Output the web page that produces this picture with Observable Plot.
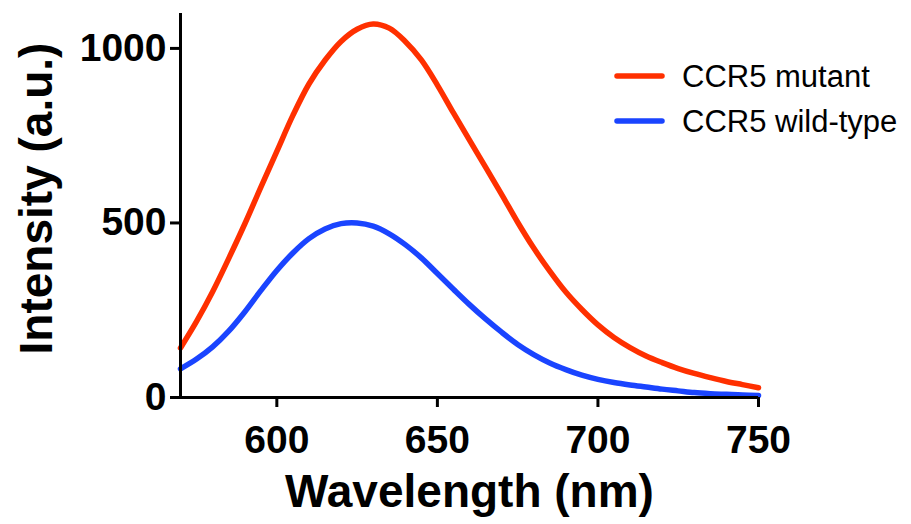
<!DOCTYPE html>
<html>
<head>
<meta charset="utf-8">
<script src="https://cdn.jsdelivr.net/npm/d3@7"></script>
<script src="https://cdn.jsdelivr.net/npm/@observablehq/plot@0.6"></script>
<style>
  html, body { margin: 0; padding: 0; background: #fff; }
  #wrap { position: relative; width: 911px; height: 524px; font-family: "Liberation Sans", Arial, sans-serif; }
  #legend { position: absolute; left: 0; top: 0; pointer-events: none; }
</style>
</head>
<body>
<div id="wrap"></div>
<script>
// ---- data ----
const wavelengths = [570,575,580,585,590,595,600,605,610,615,620,625,630,635,640,645,650,655,660,665,670,675,680,685,690,695,700,705,710,715,720,725,730,735,740,745,750];
const mutant =      [142,218,303,398,497,602,705,808,898,966,1020,1055,1070,1058,1020,967,895,815,737,660,582,502,428,362,302,252,208,172,143,119,100,83,69,57,46,37,28];
const wildtype =    [82,110,145,190,245,306,364,414,455,483,498,500,491,469,438,400,355,310,266,225,187,152,123,99,80,64,52,43,36,30,24,19,14,11,9,7,6];
const seriesNames = ["CCR5 mutant", "CCR5 wild-type"];
const seriesColors = ["#ff3000", "#1a44ff"];
const xTicks = [600, 650, 700, 750];
const yTicks = [0, 500, 1000];
const xTitle = "Wavelength (nm)";
const yTitle = "Intensity (a.u.)";

const rows = [];
wavelengths.forEach((w, i) => {
  rows.push({w, v: mutant[i], s: seriesNames[0]});
  rows.push({w, v: wildtype[i], s: seriesNames[1]});
});

const font = "'Liberation Sans', Arial, sans-serif";

const chart = Plot.plot({
  width: 911,
  height: 524,
  marginLeft: 180,
  marginRight: 153,
  marginTop: 13,
  marginBottom: 127,
  style: { fontFamily: font, background: "#fff", color: "#000" },
  x: { domain: [570, 750] },
  y: { domain: [0, 1100] },
  color: { domain: seriesNames, range: seriesColors },
  marks: [
    Plot.line(rows, { x: "w", y: "v", stroke: "s", z: "s", strokeWidth: 5.5, curve: "catmull-rom" }),
    Plot.ruleX([570], { stroke: "#000", strokeWidth: 3 }),
    Plot.ruleY([0], { stroke: "#000", strokeWidth: 3 }),
    Plot.axisX({ ticks: xTicks, tickSize: 10, tickPadding: 18, strokeWidth: 3, fontSize: 39, fontWeight: "bold", label: null, tickFormat: d => String(d) }),
    Plot.axisY({ ticks: yTicks, tickSize: 10, tickPadding: 4, strokeWidth: 3, fontSize: 39, fontWeight: "bold", label: null, tickFormat: d => String(d) }),
    Plot.text([xTitle], { frameAnchor: "bottom", dy: 95, fontSize: 46, fontWeight: "bold", lineAnchor: "middle", textAnchor: "middle", fill: "#000" }),
    Plot.text([yTitle], { frameAnchor: "left", rotate: -90, dx: -143, dy: -7, fontSize: 46, fontWeight: "bold", lineAnchor: "middle", textAnchor: "middle", fill: "#000" })
  ]
});

const wrap = document.getElementById("wrap");
wrap.appendChild(chart);

// legend overlay
const ns = "http://www.w3.org/2000/svg";
const leg = document.createElementNS(ns, "svg");
leg.setAttribute("id", "legend");
leg.setAttribute("width", 911);
leg.setAttribute("height", 524);
const legendX = 617, legendY = 76, legendGap = 45;
seriesNames.forEach((name, i) => {
  const y = legendY + i * legendGap;
  const line = document.createElementNS(ns, "line");
  line.setAttribute("x1", legendX); line.setAttribute("x2", legendX + 45);
  line.setAttribute("y1", y); line.setAttribute("y2", y);
  line.setAttribute("stroke", seriesColors[i]);
  line.setAttribute("stroke-width", 5.5);
  line.setAttribute("stroke-linecap", "round");
  leg.appendChild(line);
  const t = document.createElementNS(ns, "text");
  t.setAttribute("x", legendX + 65);
  t.setAttribute("y", y);
  t.setAttribute("dy", "0.36em");
  t.setAttribute("font-size", 31);
  t.setAttribute("font-family", font);
  t.setAttribute("fill", "#000");
  t.textContent = name;
  leg.appendChild(t);
});
wrap.appendChild(leg);
</script>
</body>
</html>
